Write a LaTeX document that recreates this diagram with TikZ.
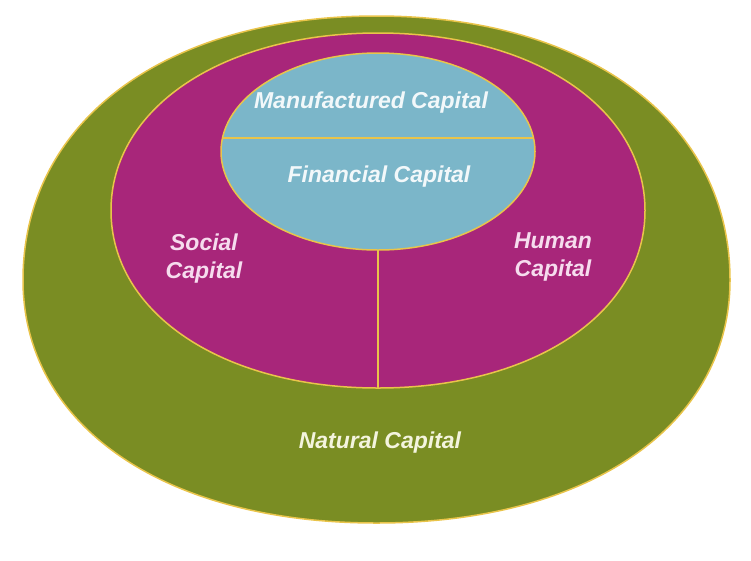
\documentclass[tikz,border=0pt]{standalone}
\usepackage{fontspec}
\setmainfont{Liberation Sans}
\usetikzlibrary{shapes.geometric}
\definecolor{natgreen}{RGB}{122,141,35}
\definecolor{socpink}{RGB}{168,38,122}
\definecolor{finblue}{RGB}{123,182,201}
\definecolor{rimyellow}{RGB}{233,196,74}
\definecolor{pinktext}{RGB}{246,220,238}
\definecolor{bluetext}{RGB}{242,248,250}
\definecolor{greentext}{RGB}{244,244,222}

\begin{document}
\begin{tikzpicture}[x = 1pt, y = -1pt,
  rim/.style = {draw = rimyellow, line width = 1.5pt},
  ring/.style = {ellipse, rim, inner sep = 0},
  captext/.style = {font = \fontsize{23}{28}\selectfont\bfseries\itshape, align = center}]
\useasboundingbox (0,0) rectangle (751,560);
% natural capital, a rounded egg
\draw [rim, fill = natgreen] (23,280) .. controls (23,121.6) and (164.4,16) .. (376.5,16)
  .. controls (588.6,16) and (730,121.6) .. (730,280)
  .. controls (730,425.8) and (588.6,523) .. (376.5,523)
  .. controls (164.4,523) and (23,425.8) .. cycle;
% social and human capital
\draw [rim, fill = socpink] (111,210.5) .. controls (111,107.5) and (223.1,33) .. (378,33)
  .. controls (532.9,33) and (645,107.5) .. (645,210.5)
  .. controls (645,313.5) and (532.9,388) .. (378,388)
  .. controls (223.1,388) and (111,313.5) .. cycle;
\coordinate (sh) at (378,388);
\node[ring, fill = finblue, minimum width = 314, minimum height = 197](fin) at (378,151.5){};
\draw [rim] (fin.175) -- (fin.5);
\draw [rim] (fin.south) -- (sh);
\node[captext, text = bluetext](mf) at (371,103){Manufactured Capital};
\node[captext, text = bluetext](fc) at (379,177){Financial Capital};
\node[captext, text = pinktext](sc) at (204,259){Social\\Capital};
\node[captext, text = pinktext](hc) at (553,257){Human\\Capital};
\node[captext, text = greentext](nc) at (380,443){Natural Capital};
\end{tikzpicture}
\end{document}
